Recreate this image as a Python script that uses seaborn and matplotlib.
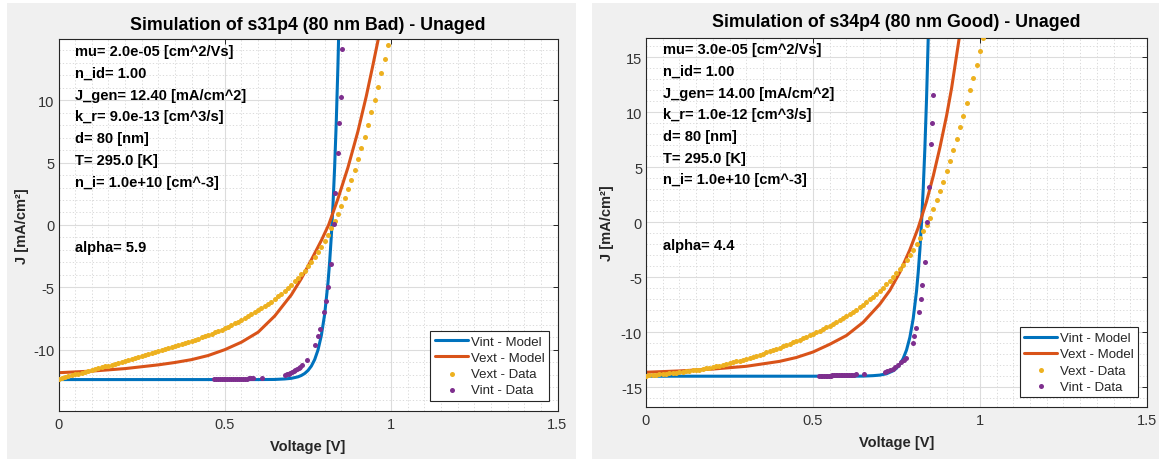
import matplotlib
matplotlib.use("Agg")
import matplotlib.pyplot as plt
from matplotlib.patches import Rectangle
from matplotlib.ticker import MultipleLocator, FuncFormatter
import seaborn as sns

# ---------------- s31p4 (80 nm Bad) ----------------
bad_title = "Simulation of s31p4 (80 nm Bad) - Unaged"
bad_params = ["mu= 2.0e-05 [cm^2/Vs]", "n_id= 1.00", "J_gen= 12.40 [mA/cm^2]",
              "k_r= 9.0e-13 [cm^3/s]", "d= 80 [nm]", "T= 295.0 [K]",
              "n_i= 1.0e+10 [cm^-3]", "alpha= 5.9"]
bad_ylim = 14.88

bad_vint_model_v = [0.0, 0.60, 0.65, 0.68, 0.70, 0.72, 0.73, 0.74, 0.75, 0.76, 0.77,
                    0.78, 0.79, 0.80, 0.81, 0.815, 0.82, 0.825, 0.83, 0.835, 0.84, 0.845]
bad_vint_model_j = [-12.40, -12.40, -12.39, -12.35, -12.30, -12.18, -12.07, -11.91, -11.67,
                    -11.32, -10.80, -10.03, -8.88, -7.18, -4.66, -2.99, -0.94, 1.55, 4.59,
                    8.29, 12.80, 18.30]

bad_vext_model_v = [0.0, 0.10, 0.20, 0.30, 0.35, 0.40, 0.45, 0.50, 0.55, 0.60, 0.65, 0.70,
                    0.73, 0.76, 0.79, 0.812, 0.84, 0.87, 0.90, 0.925, 0.945, 0.962]
bad_vext_model_j = [-11.85, -11.72, -11.52, -11.22, -11.03, -10.80, -10.47, -10.00, -9.40,
                    -8.60, -7.30, -5.60, -4.30, -2.80, -1.25, 0.0, 2.10, 4.60, 7.50, 10.30,
                    12.80, 15.00]

bad_vext_data_v = [0.00, 0.01, 0.02, 0.03, 0.04, 0.05, 0.06, 0.07, 0.08, 0.09,
                   0.10, 0.11, 0.12, 0.13, 0.14, 0.15, 0.16, 0.17, 0.18, 0.19,
                   0.20, 0.21, 0.22, 0.23, 0.24, 0.25, 0.26, 0.27, 0.28, 0.29,
                   0.30, 0.31, 0.32, 0.33, 0.34, 0.35, 0.36, 0.37, 0.38, 0.39,
                   0.40, 0.41, 0.42, 0.43, 0.44, 0.45, 0.46, 0.47, 0.48, 0.49,
                   0.50, 0.51, 0.52, 0.53, 0.54, 0.55, 0.56, 0.57, 0.58, 0.59,
                   0.60, 0.61, 0.62, 0.63, 0.64, 0.65, 0.66, 0.67, 0.68, 0.69,
                   0.70, 0.71, 0.72, 0.73, 0.74, 0.75, 0.76, 0.77, 0.78, 0.79,
                   0.80, 0.81, 0.82, 0.83, 0.84, 0.85, 0.86, 0.87, 0.88, 0.89,
                   0.90, 0.91, 0.92, 0.93, 0.94, 0.95, 0.96, 0.97, 0.98, 0.99]
bad_vext_data_j = [-12.33, -12.26, -12.19, -12.13, -12.06, -11.99, -11.92, -11.85, -11.79, -11.72,
                   -11.65, -11.58, -11.50, -11.43, -11.35, -11.28, -11.21, -11.13, -11.06, -10.98,
                   -10.91, -10.83, -10.76, -10.68, -10.61, -10.53, -10.45, -10.38, -10.30, -10.22,
                   -10.14, -10.06, -9.98, -9.90, -9.82, -9.73, -9.65, -9.56, -9.48, -9.39,
                   -9.30, -9.21, -9.12, -9.02, -8.92, -8.82, -8.72, -8.61, -8.50, -8.39,
                   -8.27, -8.15, -8.02, -7.89, -7.76, -7.62, -7.48, -7.33, -7.18, -7.02,
                   -6.86, -6.69, -6.51, -6.33, -6.14, -5.94, -5.73, -5.51, -5.28, -5.04,
                   -4.79, -4.53, -4.26, -3.97, -3.66, -3.33, -2.98, -2.60, -2.19, -1.75,
                   -1.28, -0.78, -0.25, 0.30, 0.90, 1.52, 2.18, 2.88, 3.64, 4.44,
                   5.30, 6.18, 7.09, 8.05, 9.04, 10.05, 11.08, 12.17, 13.27, 14.40]

bad_vint_data_v = [0.466, 0.472, 0.478, 0.484, 0.490, 0.496, 0.502, 0.508, 0.514, 0.520,
                   0.526, 0.532, 0.538, 0.544, 0.550, 0.556, 0.562, 0.568, 0.574, 0.580,
                   0.586, 0.612, 0.682, 0.687, 0.692, 0.697, 0.702, 0.707, 0.712, 0.717,
                   0.722, 0.727, 0.732, 0.747, 0.772, 0.779, 0.785, 0.799, 0.805, 0.810,
                   0.820, 0.827, 0.832, 0.839, 0.844, 0.849, 0.852]
bad_vint_data_j = [-12.36, -12.36, -12.36, -12.35, -12.35, -12.35, -12.35, -12.34, -12.34, -12.34,
                   -12.34, -12.33, -12.33, -12.33, -12.33, -12.32, -12.32, -12.32, -12.31, -12.31,
                   -12.30, -12.25, -12.02, -11.97, -11.92, -11.86, -11.80, -11.73, -11.65, -11.56,
                   -11.46, -11.36, -11.25, -10.85, -9.60, -8.90, -8.35, -7.00, -6.10, -5.00,
                   -3.10, 0.10, 2.60, 5.80, 8.20, 10.30, 14.10]

# ---------------- s34p4 (80 nm Good) ----------------
good_title = "Simulation of s34p4 (80 nm Good) - Unaged"
good_params = ["mu= 3.0e-05 [cm^2/Vs]", "n_id= 1.00", "J_gen= 14.00 [mA/cm^2]",
               "k_r= 1.0e-12 [cm^3/s]", "d= 80 [nm]", "T= 295.0 [K]",
               "n_i= 1.0e+10 [cm^-3]", "alpha= 4.4"]
good_ylim = 16.8

good_vint_model_v = [0.0, 0.60, 0.65, 0.68, 0.70, 0.72, 0.74, 0.75, 0.76, 0.77, 0.78,
                     0.79, 0.80, 0.81, 0.815, 0.82, 0.825, 0.83, 0.835, 0.84, 0.845, 0.847]
good_vint_model_j = [-14.00, -14.00, -13.99, -13.95, -13.90, -13.78, -13.51, -13.27, -12.92,
                     -12.39, -11.62, -10.47, -8.76, -6.25, -4.56, -2.50, 0.0, 3.05, 6.76,
                     11.27, 16.77, 19.30]

good_vext_model_v = [0.0, 0.10, 0.20, 0.30, 0.40, 0.45, 0.50, 0.55, 0.60, 0.65, 0.70, 0.73,
                     0.76, 0.79, 0.815, 0.84, 0.86, 0.88, 0.90, 0.915, 0.93, 0.94]
good_vext_model_j = [-13.64, -13.52, -13.35, -13.10, -12.65, -12.30, -11.80, -11.10, -10.30,
                     -9.10, -7.45, -6.20, -4.55, -2.50, -0.50, 1.90, 4.20, 6.80, 9.70, 12.20,
                     15.20, 17.20]

good_vext_data_v = [0.00, 0.01, 0.02, 0.03, 0.04, 0.05, 0.06, 0.07, 0.08, 0.09,
                    0.10, 0.11, 0.12, 0.13, 0.14, 0.15, 0.16, 0.17, 0.18, 0.19,
                    0.20, 0.21, 0.22, 0.23, 0.24, 0.25, 0.26, 0.27, 0.28, 0.29,
                    0.30, 0.31, 0.32, 0.33, 0.34, 0.35, 0.36, 0.37, 0.38, 0.39,
                    0.40, 0.41, 0.42, 0.43, 0.44, 0.45, 0.46, 0.47, 0.48, 0.49,
                    0.50, 0.51, 0.52, 0.53, 0.54, 0.55, 0.56, 0.57, 0.58, 0.59,
                    0.60, 0.61, 0.62, 0.63, 0.64, 0.65, 0.66, 0.67, 0.68, 0.69,
                    0.70, 0.71, 0.72, 0.73, 0.74, 0.75, 0.76, 0.77, 0.78, 0.79,
                    0.80, 0.81, 0.82, 0.83, 0.84, 0.85, 0.86, 0.87, 0.88, 0.89,
                    0.90, 0.91, 0.92, 0.93, 0.94, 0.95, 0.96, 0.97, 0.98, 0.99,
                    1.00, 1.01]
good_vext_data_j = [-13.94, -13.91, -13.88, -13.85, -13.82, -13.79, -13.76, -13.73, -13.70, -13.67,
                    -13.64, -13.60, -13.56, -13.52, -13.48, -13.44, -13.39, -13.34, -13.28, -13.22,
                    -13.16, -13.10, -13.03, -12.96, -12.89, -12.82, -12.74, -12.66, -12.58, -12.50,
                    -12.41, -12.32, -12.23, -12.14, -12.04, -11.94, -11.84, -11.73, -11.62, -11.51,
                    -11.40, -11.29, -11.17, -11.05, -10.93, -10.81, -10.68, -10.55, -10.42, -10.28,
                    -10.14, -10.00, -9.86, -9.71, -9.56, -9.41, -9.25, -9.09, -8.92, -8.74,
                    -8.56, -8.37, -8.17, -7.96, -7.74, -7.51, -7.27, -7.02, -6.76, -6.50,
                    -6.24, -5.96, -5.66, -5.34, -5.00, -4.64, -4.26, -3.86, -3.43, -2.97,
                    -2.48, -1.96, -1.41, -0.83, -0.22, 0.42, 1.17, 2.02, 2.83, 3.68,
                    4.63, 5.54, 6.59, 7.56, 8.64, 9.69, 10.87, 11.99, 13.13, 14.33,
                    15.57, 16.75]

good_vint_data_v = [0.518, 0.523, 0.528, 0.533, 0.538, 0.543, 0.548, 0.553, 0.558, 0.563,
                    0.568, 0.573, 0.578, 0.583, 0.588, 0.593, 0.598, 0.603, 0.608, 0.613,
                    0.618, 0.623, 0.630, 0.653, 0.715, 0.723, 0.731, 0.739, 0.747, 0.755,
                    0.763, 0.771, 0.777, 0.798, 0.803, 0.809, 0.818, 0.823, 0.827, 0.835,
                    0.840, 0.847, 0.853, 0.857, 0.859]
good_vint_data_j = [-13.96, -13.96, -13.95, -13.95, -13.95, -13.94, -13.94, -13.94, -13.93, -13.93,
                    -13.92, -13.92, -13.91, -13.91, -13.90, -13.89, -13.88, -13.87, -13.86, -13.86,
                    -13.85, -13.85, -13.84, -13.84, -13.64, -13.55, -13.46, -13.34, -13.19, -12.98,
                    -12.74, -12.53, -12.31, -11.02, -10.33, -9.60, -8.16, -7.02, -5.75, -3.58,
                    0.03, 3.19, 7.14, 9.00, 11.56]

x_ticks_step = 0.5
y_ticks_step = 5

# ---------------- styling ----------------
BLUE, ORANGE, YELLOW, PURPLE = "#0072BD", "#D95319", "#EDB120", "#7E2F8E"
AXCOL = "#262626"

sns.set_style("white")
plt.rcParams["font.family"] = ["Liberation Sans", "DejaVu Sans"]

W, H = 1159, 460
fig = plt.figure(figsize=(W / 100, H / 100), dpi=100, facecolor="white")


def fig_rect(x0, y0, x1, y1):
    """pixel box (top-left origin) -> figure fraction [l, b, w, h]"""
    return [x0 / W, 1 - y1 / H, (x1 - x0) / W, (y1 - y0) / H]


# grey panel backgrounds
for (x0, y0, x1, y1) in [(7, 4, 576, 460), (592, 4, 1159, 460)]:
    l, b, w, h = fig_rect(x0, y0, x1, y1)
    fig.patches.append(Rectangle((l, b), w, h, transform=fig.transFigure,
                                 facecolor="#f0f0f0", edgecolor="none", zorder=-10))

panels = [
    dict(box=(58.5, 40.4, 557.5, 411.5), title=bad_title, params=bad_params, ylim=bad_ylim,
         vim=(bad_vint_model_v, bad_vint_model_j), vem=(bad_vext_model_v, bad_vext_model_j),
         ved=(bad_vext_data_v, bad_vext_data_j), vid=(bad_vint_data_v, bad_vint_data_j),
         title_pad=7.4, ylab_x=-0.074),
    dict(box=(646, 38.5, 1147, 408), title=good_title, params=good_params, ylim=good_ylim,
         vim=(good_vint_model_v, good_vint_model_j), vem=(good_vext_model_v, good_vext_model_j),
         ved=(good_vext_data_v, good_vext_data_j), vid=(good_vint_data_v, good_vint_data_j),
         title_pad=8.3, ylab_x=-0.078),
]

fmt = FuncFormatter(lambda v, _: f"{v:g}")

for p in panels:
    ax = fig.add_axes(fig_rect(*p["box"]))
    ax.set_facecolor("white")

    sns.lineplot(x=p["vim"][0], y=p["vim"][1], ax=ax, color=BLUE, linewidth=2.2,
                 sort=False, estimator=None, label="Vint - Model")
    sns.lineplot(x=p["vem"][0], y=p["vem"][1], ax=ax, color=ORANGE, linewidth=2.2,
                 sort=False, estimator=None, label="Vext - Model")
    sns.scatterplot(x=p["ved"][0], y=p["ved"][1], ax=ax, color=YELLOW, s=13,
                    linewidth=0, zorder=3, label="Vext - Data")
    sns.scatterplot(x=p["vid"][0], y=p["vid"][1], ax=ax, color=PURPLE, s=13,
                    linewidth=0, zorder=4, label="Vint - Data")

    ax.set_xlim(0, 1.5)
    ax.set_ylim(-p["ylim"], p["ylim"])
    ax.xaxis.set_major_locator(MultipleLocator(x_ticks_step))
    ax.xaxis.set_minor_locator(MultipleLocator(x_ticks_step / 10))
    ax.yaxis.set_major_locator(MultipleLocator(y_ticks_step))
    ax.yaxis.set_minor_locator(MultipleLocator(y_ticks_step / 5))
    ax.xaxis.set_major_formatter(fmt)
    ax.yaxis.set_major_formatter(fmt)

    ax.set_axisbelow(True)
    ax.grid(True, which="major", color="#dcdcdc", linewidth=0.8)
    ax.grid(True, which="minor", color="#d4d4d4", linewidth=0.6, linestyle=(0, (1.5, 2.5)))

    for s in ax.spines.values():
        s.set_visible(True)
        s.set_color(AXCOL)
        s.set_linewidth(0.8)
    ax.tick_params(which="major", direction="in", length=3.6, width=0.7, color=AXCOL,
                   top=True, right=True, labelsize=10.5, labelcolor="#333333")
    ax.tick_params(axis="x", which="major", pad=4.5)
    ax.tick_params(axis="y", which="major", pad=2.8)
    ax.tick_params(which="minor", length=0)

    ax.set_title(p["title"], fontsize=12.8, fontweight="bold", color="black", pad=p["title_pad"])
    ax.set_xlabel("Voltage [V]", fontsize=10.5, fontweight="bold", color="#262626")
    ax.set_ylabel("J [mA/cm²]", fontsize=10.5, fontweight="bold", color="#262626")
    ax.xaxis.set_label_coords(0.5, -0.095)
    ax.xaxis.label.set_va("center")
    ax.yaxis.set_label_coords(p["ylab_x"], 0.5)
    ax.yaxis.label.set_va("center")

    # parameter block, alpha set apart below
    rows = list(range(7)) + [9]
    for txt, r in zip(p["params"], rows):
        ax.text(0.034, 0.9687 - r * 0.0588, txt, transform=ax.transAxes, fontsize=10.5,
                fontweight="bold", color="black", ha="left", va="center")

    handles, labels = ax.get_legend_handles_labels()
    leg = ax.legend(handles, labels, loc="lower right", bbox_to_anchor=(0.983, 0.026),
                    borderaxespad=0, fontsize=9.5, frameon=True, fancybox=False,
                    framealpha=1, edgecolor=AXCOL, borderpad=0.35, labelspacing=0.3,
                    handlelength=2.5, handletextpad=0.2)
    leg.get_frame().set_linewidth(0.8)
    for t in leg.get_texts():
        t.set_color("#262626")

fig.savefig("out.png", dpi=100, facecolor="white")
